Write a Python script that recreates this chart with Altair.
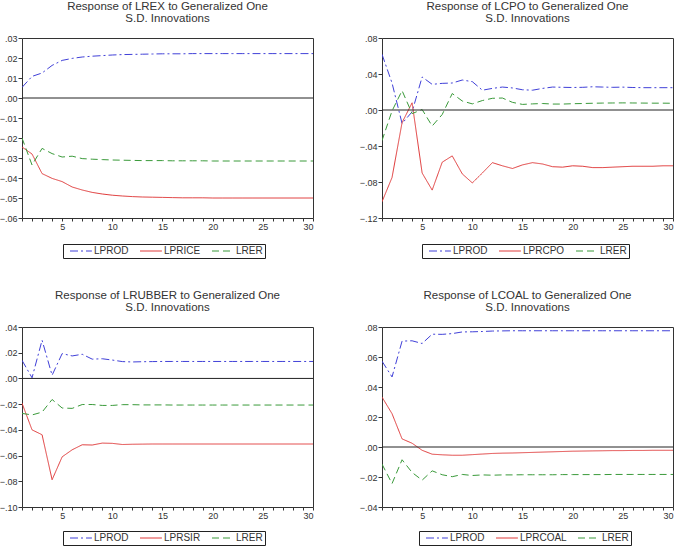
import altair as alt
import pandas as pd

x_periods = list(range(1, 31))

# ---- Panel 1: Response of LREX ----
lrex_series = ["LPROD", "LPRICE", "LRER"]
lrex_lprod = [0.0053, 0.0108, 0.0125, 0.0163, 0.0188, 0.0198, 0.0205, 0.0209, 0.0212, 0.0215,
              0.0217, 0.0218, 0.0219, 0.0220, 0.0221, 0.0221, 0.0221, 0.0222, 0.0222, 0.0222,
              0.0222, 0.0222, 0.0222, 0.0222, 0.0222, 0.0222, 0.0222, 0.0222, 0.0222, 0.0222]
lrex_lprice = [-0.0245, -0.0280, -0.0378, -0.0402, -0.0418, -0.0445, -0.0460, -0.0472, -0.0480, -0.0486,
               -0.0490, -0.0493, -0.0495, -0.0496, -0.0497, -0.0498, -0.0499, -0.0499, -0.0499, -0.0500,
               -0.0500, -0.0500, -0.0500, -0.0500, -0.0500, -0.0500, -0.0500, -0.0500, -0.0500, -0.0500]
lrex_lrer = [-0.0200, -0.0335, -0.0252, -0.0278, -0.0295, -0.0291, -0.0303, -0.0306, -0.0308, -0.0310,
             -0.0311, -0.0312, -0.0313, -0.0313, -0.0313, -0.0314, -0.0314, -0.0314, -0.0314, -0.0315,
             -0.0315, -0.0315, -0.0315, -0.0315, -0.0315, -0.0315, -0.0315, -0.0315, -0.0315, -0.0315]
lrex_yticks = [-0.06, -0.05, -0.04, -0.03, -0.02, -0.01, 0.0, 0.01, 0.02, 0.03]

# ---- Panel 2: Response of LCPO ----
lcpo_series = ["LPROD", "LPRCPO", "LRER"]
lcpo_lprod = [0.0619, 0.0300, -0.0150, -0.0020, 0.0367, 0.0285, 0.0296, 0.0300, 0.0333, 0.0315,
              0.0220, 0.0240, 0.0255, 0.0245, 0.0225, 0.0220, 0.0240, 0.0255, 0.0252, 0.0250,
              0.0252, 0.0258, 0.0255, 0.0252, 0.0254, 0.0250, 0.0248, 0.0248, 0.0248, 0.0248]
lcpo_lprcpo = [-0.102, -0.075, -0.014, 0.008, -0.070, -0.089, -0.058, -0.051, -0.071, -0.081,
               -0.070, -0.0585, -0.062, -0.065, -0.061, -0.0585, -0.060, -0.063, -0.0635, -0.062,
               -0.0625, -0.064, -0.064, -0.0635, -0.063, -0.0625, -0.0625, -0.0625, -0.062, -0.062]
lcpo_lrer = [-0.034, -0.001, 0.0215, -0.004, 0.0005, -0.0178, -0.005, 0.0183, 0.0100, 0.0068,
             0.0105, 0.0130, 0.0133, 0.0085, 0.0062, 0.0068, 0.0072, 0.0066, 0.0066, 0.0070,
             0.0072, 0.0075, 0.0077, 0.0078, 0.0079, 0.0078, 0.0077, 0.0076, 0.0076, 0.0075]
lcpo_yticks = [-0.12, -0.08, -0.04, 0.0, 0.04, 0.08]

# ---- Panel 3: Response of LRUBBER ----
lrub_series = ["LPROD", "LPRSIR", "LRER"]
lrub_lprod = [0.0141, 0.0005, 0.0297, 0.0025, 0.0193, 0.0175, 0.0188, 0.0150, 0.0153, 0.0143,
              0.0131, 0.0128, 0.0130, 0.0131, 0.0132, 0.0132, 0.0132, 0.0132, 0.0132, 0.0132,
              0.0132, 0.0132, 0.0132, 0.0132, 0.0132, 0.0132, 0.0132, 0.0132, 0.0132, 0.0132]
lrub_lprsir = [-0.0192, -0.0400, -0.0438, -0.0788, -0.0610, -0.0555, -0.0516, -0.0518, -0.0503, -0.0505,
               -0.0514, -0.0512, -0.0511, -0.0510, -0.0510, -0.0510, -0.0510, -0.0510, -0.0510, -0.0510,
               -0.0510, -0.0510, -0.0510, -0.0510, -0.0510, -0.0510, -0.0510, -0.0510, -0.0510, -0.0510]
lrub_lrer = [-0.0272, -0.0284, -0.0262, -0.0164, -0.0230, -0.0233, -0.0203, -0.0203, -0.0210, -0.0210,
             -0.0204, -0.0204, -0.0206, -0.0206, -0.0206, -0.0207, -0.0207, -0.0207, -0.0207, -0.0207,
             -0.0207, -0.0207, -0.0207, -0.0207, -0.0207, -0.0207, -0.0207, -0.0207, -0.0207, -0.0207]
lrub_yticks = [-0.10, -0.08, -0.06, -0.04, -0.02, 0.0, 0.02, 0.04]

# ---- Panel 4: Response of LCOAL ----
lcoal_series = ["LPROD", "LPRCOAL", "LRER"]
lcoal_lprod = [0.0572, 0.0467, 0.0706, 0.0708, 0.0690, 0.0752, 0.0751, 0.0756, 0.0767, 0.0768,
               0.0770, 0.0773, 0.0774, 0.0775, 0.0775, 0.0775, 0.0775, 0.0775, 0.0775, 0.0775,
               0.0775, 0.0775, 0.0775, 0.0775, 0.0775, 0.0775, 0.0775, 0.0775, 0.0775, 0.0775]
lcoal_lprcoal = [0.0333, 0.0222, 0.0054, 0.0025, -0.0022, -0.0048, -0.0052, -0.0055, -0.0055, -0.0051,
                 -0.0047, -0.0043, -0.0041, -0.0040, -0.0038, -0.0036, -0.0034, -0.0032, -0.0030, -0.0028,
                 -0.0027, -0.0026, -0.0025, -0.0024, -0.0024, -0.0023, -0.0023, -0.0022, -0.0022, -0.0022]
lcoal_lrer = [-0.0114, -0.0244, -0.0085, -0.0170, -0.0221, -0.0159, -0.0185, -0.0198, -0.0183, -0.0190,
              -0.0186, -0.0188, -0.0186, -0.0186, -0.0185, -0.0185, -0.0185, -0.0185, -0.0184, -0.0184,
              -0.0184, -0.0184, -0.0184, -0.0183, -0.0183, -0.0183, -0.0183, -0.0183, -0.0183, -0.0183]
lcoal_yticks = [-0.04, -0.02, 0.0, 0.02, 0.04, 0.06, 0.08]

BLUE = "#4040d8"
RED = "#e03a3a"
GREEN = "#3a9a3a"
DASHES = [[8, 3, 2, 3], [1, 0], [7, 4]]
FONT = "Liberation Sans"
TXT = "#333333"


def panel(title1, names, values, ydomain, yticks, legend_x, legend_y):
    rows = []
    for name, vals in zip(names, values):
        for x, v in zip(x_periods, vals):
            rows.append({"x": x, "y": v, "s": name})
    df = pd.DataFrame(rows)

    leg = alt.Legend(orient="none", legendX=legend_x, legendY=legend_y,
                     direction="horizontal", title=None, strokeColor="#222222",
                     padding=2, symbolType="M0,0H7.3", symbolSize=36,
                     symbolStrokeWidth=1, labelFontSize=10, labelFont=FONT,
                     labelColor=TXT, columnPadding=6, labelOffset=19,
                     cornerRadius=0)

    yscale = alt.Scale(domain=ydomain, nice=False, zero=False)
    yaxis = alt.Axis(values=yticks, title=None, grid=False, domain=False,
                     labelExpr="replace(format(datum.value, '.2f'), '0.', '.')",
                     labelOverlap=False,
                     tickSize=4, labelPadding=1, labelFontSize=9,
                     labelFont=FONT, labelColor=TXT, tickColor=TXT)

    lines = alt.Chart(df).mark_line(strokeWidth=1, clip=True).encode(
        x=alt.X("x:Q", scale=alt.Scale(domain=[1, 30], nice=False, zero=False),
                axis=alt.Axis(values=x_periods, title=None, grid=False, domain=False,
                              labelExpr="datum.value % 5 == 0 ? datum.label : ''",
                              labelOverlap=False,
                              tickSize=3, labelPadding=1, labelFontSize=9,
                              labelFont=FONT, labelColor=TXT, tickColor=TXT)),
        y=alt.Y("y:Q", scale=yscale, axis=yaxis),
        color=alt.Color("s:N", scale=alt.Scale(domain=names, range=[BLUE, RED, GREEN]), legend=leg),
        strokeDash=alt.StrokeDash("s:N", scale=alt.Scale(domain=names, range=DASHES), legend=leg),
    )
    zero = alt.Chart(pd.DataFrame({"y": [0.0]})).mark_rule(color="#222222", strokeWidth=1).encode(
        y=alt.Y("y:Q", scale=yscale, axis=yaxis))
    return alt.layer(lines, zero).properties(
        width=291, height=180,
        title=alt.TitleParams(text=[title1, "S.D. Innovations"], fontSize=11.5, font=FONT,
                              fontWeight="normal", color=TXT, anchor="middle",
                              offset=10, lineHeight=12),
    )


p1 = panel("Response of LREX to Generalized One", lrex_series,
           [lrex_lprod, lrex_lprice, lrex_lrer], [-0.06, 0.03], lrex_yticks, 41, 206)
p2 = panel("Response of LCPO to Generalized One", lcpo_series,
           [lcpo_lprod, lcpo_lprcpo, lcpo_lrer], [-0.12, 0.08], lcpo_yticks, 40, 206)
p3 = panel("Response of LRUBBER to Generalized One", lrub_series,
           [lrub_lprod, lrub_lprsir, lrub_lrer], [-0.10, 0.04], lrub_yticks, 41, 204)
p4 = panel("Response of LCOAL to Generalized One", lcoal_series,
           [lcoal_lprod, lcoal_lprcoal, lcoal_lrer], [-0.04, 0.08], lcoal_yticks, 37, 204)

chart = alt.vconcat(
    alt.hconcat(p1, p2, spacing=44).resolve_scale(color="independent", strokeDash="independent"),
    alt.hconcat(p3, p4, spacing=44).resolve_scale(color="independent", strokeDash="independent"),
    spacing=30,
).resolve_scale(color="independent", strokeDash="independent").configure_view(
    stroke="#333333", strokeWidth=1
).configure_axis(labelOverlap=False).properties(
    padding={"left": -2, "top": 0, "right": 0, "bottom": 0})

chart.save("out.html", embed_options={"renderer": "svg", "actions": False})
